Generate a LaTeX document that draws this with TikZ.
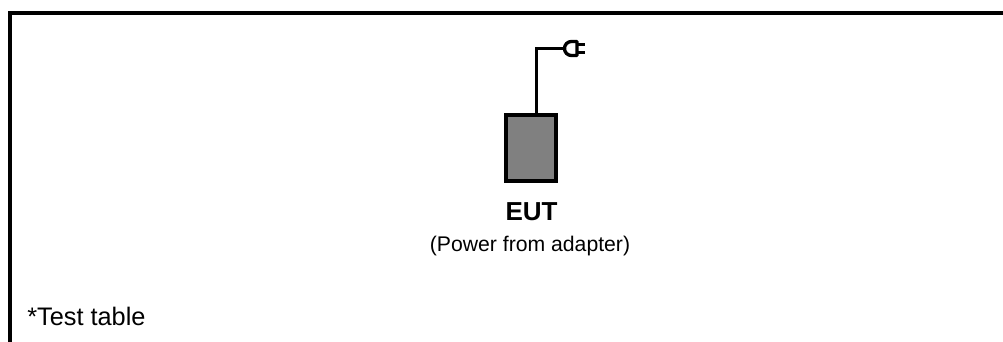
\documentclass[tikz,border=0pt]{standalone}
\usepackage{fontspec}
\setmainfont{Liberation Sans}
\tikzset{
  px/.style={x=0.75pt,y=-0.75pt},
  wire/.style={draw=black,line width=2.4pt,line join=miter},
  frameline/.style={draw=black,line width=3pt,line join=miter},
  eutbox/.style={draw=black,fill=black!50,line width=3pt,minimum width=37.5pt,minimum height=49.5pt,inner sep=0pt,outer sep=0pt},
  plugline/.style={draw=black,line width=2.5pt,line join=round},
  label/.style={inner sep=0pt,anchor=base,text=black}
}
\begin{document}
\begin{tikzpicture}[px]
\useasboundingbox (0,0) rectangle (1003,342);
\fill[white] (0,0) rectangle (1003,342);
\coordinate (fbl) at (10,342);
\coordinate (ftl) at (10,13);
\coordinate (ftr) at (1003,13);
\draw[frameline] (fbl) -- (ftl) -- (ftr);
\node[eutbox] (eut) at (531,148) {};
\coordinate (wbase) at (536.5,115);
\coordinate (plug) at (565,48.5);
\draw[wire] (wbase) -- (wbase |- plug) -- (plug);
\draw[plugline,fill=white] (577,41.5) -- (571.5,41.5) .. controls (567.5,41.5) and (564.5,44.5) .. (564.5,48.5) .. controls (564.5,52.5) and (567.5,55.5) .. (571.5,55.5) -- (577,55.5) -- cycle;
\draw[plugline] (577,44.5) -- (585,44.5) (577,52.5) -- (585,52.5);
\node[label,font=\bfseries\fontsize{19.5pt}{22pt}\selectfont] (t1) at (531.5,220) {EUT};
\node[label,font=\fontsize{15.9pt}{18pt}\selectfont] (t2) at (530,251) {(Power from adapter)};
\node[label,anchor=base west,font=\fontsize{19pt}{22pt}\selectfont] (t3) at (27,325) {*Test table};
\end{tikzpicture}
\end{document}
